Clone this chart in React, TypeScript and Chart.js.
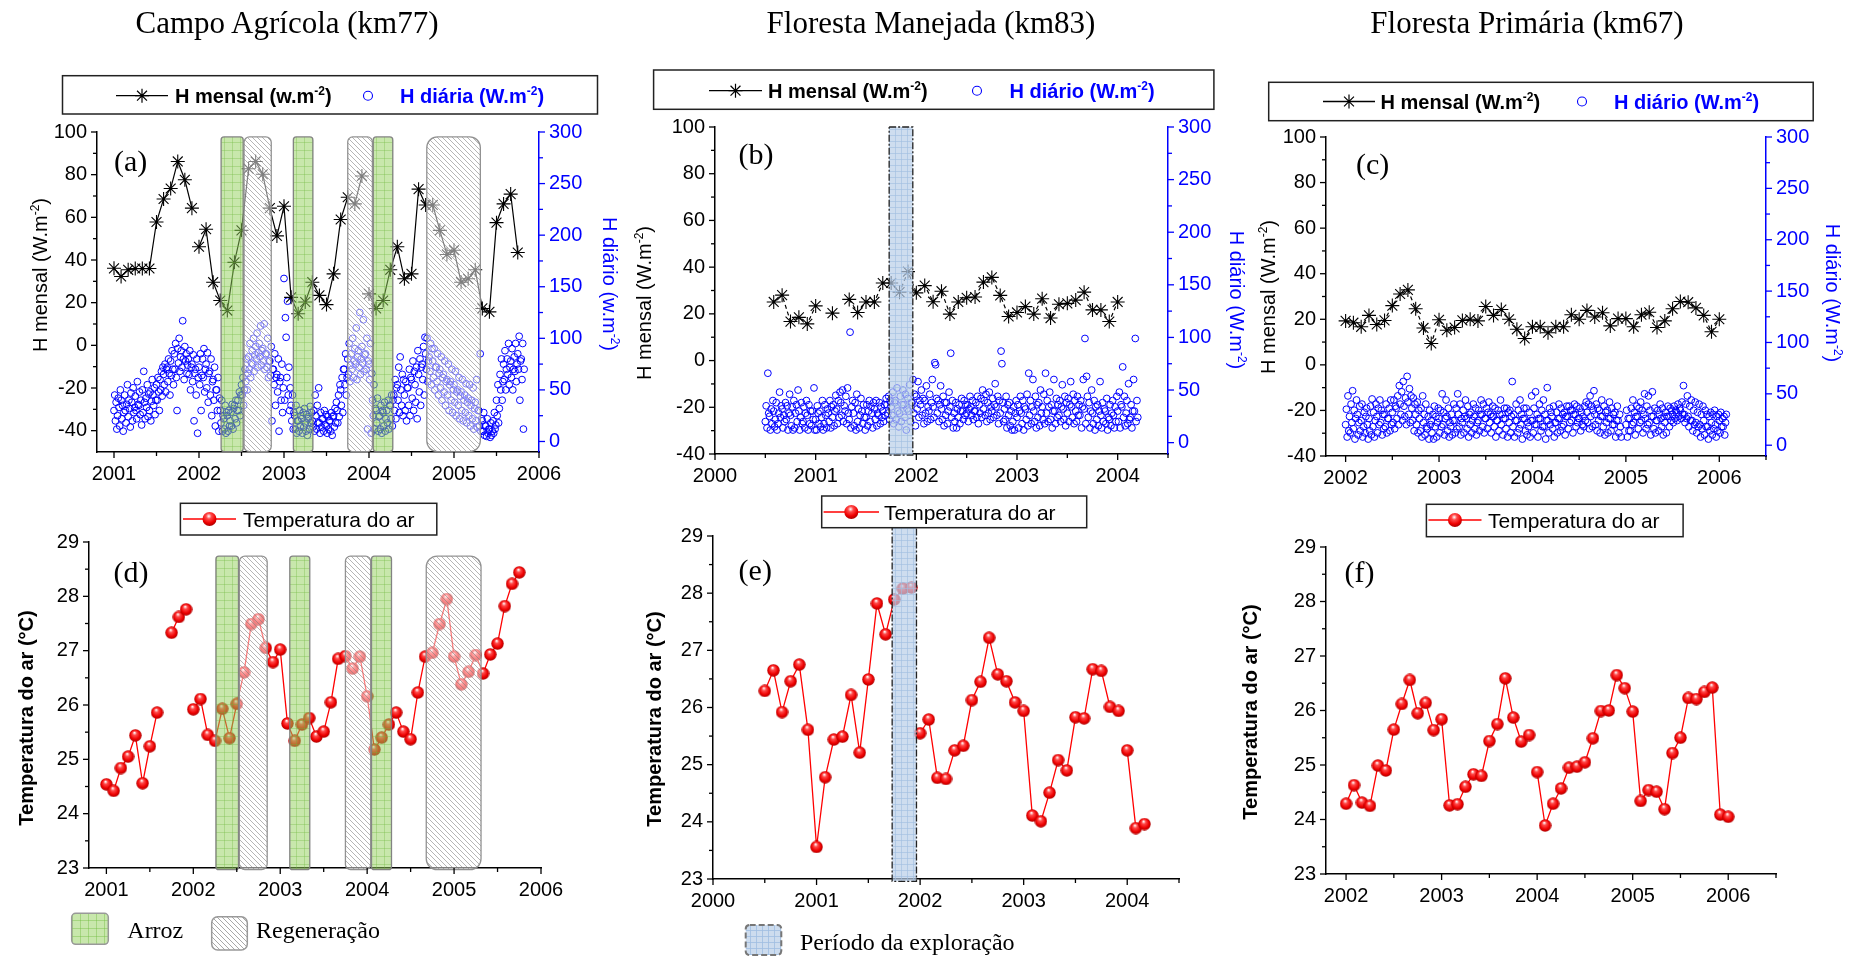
import React, { useEffect, useRef } from 'react';
import { Chart, registerables } from 'chart.js';

Chart.register(...registerables);

/* ======================= DATA ======================= */
// (a) Campo Agrícola (km77) – monthly H (W.m-2), Jan 2001 .. Oct 2005
const hMensalA0 = 2001;
const hMensalA = [36.1, 32.3, 35.4, 36, 36, 36, 57.8, 68.6, 73.5, 86.2, 77.6, 64.3, 46.2, 54.4, 29.6, 21, 16.3, 38.9, 53.9, 82.8, 86.2, 80.2, 64.3, 51.3, 65.2, 22.5, 14.8, 20.3, 29.6, 23.4, 19.1, 33.5, 59, 69.4, 66.3, 79.4, 24.1, 17.3, 21, 35.4, 46.2, 31.2, 33.5, 73.2, 65.8, 65.8, 53.9, 42.6, 44.6, 29.6, 31.2, 35.4, 17.3, 15.7, 57.5, 66.3, 70.9, 43.5];
const hMensalABreaks = [11, 35];
// daily H (W.m-2), one inner list per half month
const hDiariaA0 = 2001;
const hDiariaA = [
  [30,45,20,38,12],[25,42,33,15,50],[40,22,35,10,28],[45,30,18,36,55],[24,40,32,14,47],[38,20,52,28,33],
  [44,30,22,58,36],[35,48,26,40,16],[50,28,68,38,22],[42,33,55,24,46],[30,48,20,39,60],[45,35,52,26,40],
  [55,40,62,48,30],[60,50,68,44,72],[65,55,75,48,70],[72,58,80,66,45],[78,64,88,70,55],[85,70,95,62,30],
  [90,76,100,68,82],[88,72,117,80,60],[92,78,85,66,74],[80,65,88,50,72],[75,58,84,20,66],[70,45,80,8,62],
  [72,55,85,30,64],[80,62,90,48,70],[75,52,86,38,66],[68,45,80,25,58],[60,40,72,15,50],[50,30,62,10,42],
  [30,18,40,10,25],[22,12,35,8,28],[25,10,30,15,20],[28,15,36,12,32],[35,22,40,18,30],[40,30,48,25,45],
  [55,45,62,35,50],[70,58,80,50,66],[82,70,95,62,76],[88,75,100,68,84],[92,80,105,72,86],[95,82,112,74,88],
  [90,78,114,70,85],[85,72,100,62,78],[78,64,92,20,70],[70,55,85,35,62],[65,48,80,10,58],[62,40,75,28,52],
  [158,40,120,101,62],[136,45,72,30,52],[35,20,45,12,28],[25,12,35,8,20],[20,10,30,15,25],[22,8,28,14,32],
  [18,10,26,6,22],[24,12,34,18,28],[20,14,30,10,45],[25,12,35,18,52],[18,8,28,14,22],[22,10,30,16,26],
  [15,8,24,12,20],[20,10,28,6,24],[25,14,32,18,38],[30,18,45,24,55],[50,35,62,28,70],[70,55,85,45,62],
  [80,65,95,58,74],[85,70,100,62,78],[90,75,110,60,82],[88,72,125,65,80],[92,76,118,68,84],[85,70,100,12,78],
  [75,60,95,8,66],[40,25,55,12,32],[30,18,42,10,24],[25,12,35,8,30],[28,15,38,10,22],[30,18,40,12,35],
  [35,22,45,15,40],[45,30,60,22,52],[55,40,72,28,82],[50,35,65,25,60],[45,30,58,20,52],[52,35,70,25,62],
  [60,42,78,30,68],[55,38,72,22,88],[65,48,80,35,72],[75,60,92,45,101],[85,70,100,58,78],[82,68,95,55,90],
  [78,62,90,50,72],[72,58,85,45,66],[70,52,82,40,62],[65,48,78,35,58],[60,45,75,30,55],[58,40,70,28,50],
  [55,38,68,25,48],[50,35,62,22,44],[48,30,60,20,40],[45,28,56,18,38],[42,25,55,15,35],[40,22,52,12,32],
  [38,20,60,14,30],[30,15,85,10,22],[20,10,28,6,15],[15,5,22,8,12],[12,4,18,6,10],[20,8,28,12,16],
  [40,25,55,18,32],[65,50,80,40,58],[75,60,88,50,70],[80,65,95,55,72],[78,62,90,50,70],[82,68,95,58,75],
  [85,70,102,40,78],[80,60,95,12,70],
];

// (b) Floresta Manejada (km83) – monthly H from Aug 2000
const hMensalB0 = 2000 + 7 / 12;
const hMensalB = [25.1, 28.0, 16.7, 18.5, 15.7, 23.4, null, 20.3, null, 26.2, 20.6, 25.1, 25.1, 33.2, 33.2, 29.3, 38.1, 29.0, 32.1, 25.2, 29.7, 19.9, 25.1, 26.9, 27.2, 33.6, 35.6, 27.9, 18.9, 20.6, 23.1, 19.9, 26.5, 18.2, 24.1, 24.5, 25.9, 29.3, 21.7, 21.7, 16.7, 25.1];
const hMensalBBreaks: number[] = [];
const hDiarioB0 = 2000.5;
const hDiarioB = [
  [20,35,14,66,28],[25,12,32,18,40],[30,15,22,38,12],[18,28,48,24,35],[32,14,26,20,38],[22,35,12,28,46],
  [26,16,34,12,40],[14,28,36,20,50],[30,12,24,38,18],[20,34,14,28,40],[26,12,36,18,30],[16,30,22,52,12],
  [22,12,35,28,18],[30,15,24,40,12],[18,36,26,14,32],[28,20,40,14,34],[24,36,16,30,45],[32,18,40,24,48],
  [38,26,50,20,35],[30,44,18,52,28],[22,105,14,34,40],[28,16,38,12,46],[20,32,14,26,42],[30,18,36,24,12],
  [24,36,16,30,40],[20,34,28,14,38],[32,22,40,16,28],[26,38,18,34,24],[30,20,36,26,42],[36,28,44,22,40],
  [34,26,48,18,38],[40,22,52,30,15],[28,44,20,36,50],[36,24,46,12,32],[42,30,55,20,38],[38,60,28,46,16],
  [44,32,58,24,40],[36,50,26,42,18],[40,28,54,20,34],[30,46,22,38,60],[34,24,76,74,42],[28,40,20,36,54],
  [32,22,44,16,38],[26,38,18,30,48],[34,85,24,40,14],[28,20,38,14,32],[24,36,18,30,42],[30,22,40,26,36],
  [28,36,20,32,44],[34,26,40,22,30],[30,38,24,44,18],[36,28,42,24,50],[32,40,26,46,20],[38,28,48,22,34],
  [30,42,24,36,56],[34,26,44,18,40],[28,87,75,38,20],[32,22,44,14,36],[26,38,16,30,12],[20,34,12,28,40],
  [24,36,14,30,44],[28,18,40,12,34],[32,22,46,16,66],[26,40,18,34,60],[30,20,44,14,36],[24,38,16,50,28],
  [34,22,46,18,66],[28,40,20,34,48],[22,36,14,30,60],[30,18,42,24,36],[26,40,20,34,55],[32,22,44,16,38],
  [28,42,20,36,58],[34,24,46,18,40],[30,20,44,26,36],[26,40,14,34,60],[32,99,18,63,44],[24,38,14,30,50],
  [28,18,40,12,34],[22,36,16,30,58],[26,14,38,20,32],[30,18,42,12,24],[22,36,16,28,40],[26,14,34,20,44],
  [30,20,48,14,36],[34,72,24,44,16],[28,40,18,56,22],[24,36,14,30,60],[30,99,20,40,24],
];

// (c) Floresta Primária (km67) – monthly H from Jan 2002
const hMensalC0 = 2002;
const hMensalC = [19.3, 18.5, 16.7, 21.7, 17.7, 19.5, 26.0, 31.1, 32.9, 24.6, 16.2, 9.4, 19.8, 15.2, 16.4, 19.5, 20.0, 19.3, 25.6, 21.7, 24.3, 20.0, 15.6, 11.6, 16.7, 16.7, 14.1, 16.7, 16.7, 22.0, 20.0, 23.9, 21.0, 22.9, 17.1, 20.3, 20.3, 16.7, 22.0, 23.1, 16.4, 19.3, 24.6, 27.8, 27.5, 25.0, 21.7, 14.5, 20.0];
const hMensalCBreaks: number[] = [];
const hDiarioC0 = 2002;
const hDiarioC = [
  [20,35,8,48,14],[28,12,40,22,53],[16,34,6,26,44],[30,10,22,38,14],[24,40,8,18,32],[12,28,36,20,6],
  [26,14,38,10,45],[18,32,8,24,40],[28,12,36,20,44],[22,34,10,30,16],[30,18,40,12,26],[26,36,14,44,20],
  [32,22,44,16,38],[36,26,48,20,58],[40,30,52,24,62],[38,28,46,20,67],[42,30,55,22,48],[36,24,46,14,40],
  [30,20,42,12,34],[26,14,36,8,48],[22,30,10,40,18],[16,28,6,34,20],[24,12,30,6,38],[18,28,8,22,36],
  [26,12,34,18,50],[20,32,10,26,44],[28,14,36,8,22],[18,30,10,24,40],[24,12,36,16,50],[30,18,40,10,26],
  [22,34,12,28,44],[26,16,38,8,30],[20,32,12,24,40],[28,16,36,10,22],[24,34,14,30,44],[30,18,40,12,26],
  [26,36,16,32,42],[22,30,12,28,38],[28,18,36,8,24],[24,34,14,30,44],[20,30,10,26,36],[26,16,36,8,32],
  [22,34,12,28,62],[18,30,8,24,40],[24,12,34,16,44],[20,30,6,26,36],[26,14,36,10,22],[18,32,8,24,48],
  [24,12,36,20,52],[20,30,8,26,40],[26,14,34,18,44],[18,30,6,24,56],[24,12,36,20,32],[28,16,38,8,22],
  [22,32,12,26,40],[26,14,36,18,30],[20,32,10,28,38],[28,16,38,22,34],[24,34,12,30,40],[30,18,38,22,26],
  [26,36,14,32,20],[28,18,38,24,42],[32,22,40,16,48],[28,38,18,34,53],[30,20,40,14,36],[24,34,12,28,44],
  [28,18,38,10,32],[22,34,12,26,42],[26,14,36,20,30],[20,32,8,24,38],[24,12,30,18,8],[],
  [20,34,8,26,14],[26,14,36,20,44],[22,32,10,28,38],[28,16,36,22,42],[24,34,12,30,50],[26,16,38,20,48],
  [22,34,10,28,52],[28,16,36,12,24],[24,34,14,30,40],[26,18,36,10,28],[22,32,12,28,38],[28,18,36,24,34],
  [30,22,38,26,34],[32,24,40,28,36],[34,26,42,30,58],[30,22,40,26,48],[28,18,38,24,44],[24,14,34,20,42],
  [22,12,32,18,40],[20,8,30,16,38],[24,10,34,18,30],[18,6,28,14,32],[22,10,30,16,34],[20,8,28,14,30],
  [24,12,32,18,26],[18,28,10,22,30],
];

// (d)(e)(f) monthly air temperature (°C)
const tempD0 = 2001;
const tempD = [24.54, 24.42, 24.84, 25.05, 25.44, 24.56, 25.24, 25.86, null, 27.33, 27.62, 27.76, 25.92, 26.11, 25.45, 25.34, 25.93, 25.39, 26.02, 26.6, 27.49, 27.58, 27.05, 26.79, 27.02, 25.66, 25.34, 25.64, 25.76, 25.42, 25.51, 26.05, 26.85, 26.9, 26.67, 26.89, 26.16, 25.18, 25.4, 25.64, 25.86, 25.51, 25.37, 26.23, 26.89, 26.96, 27.49, 27.95, 26.89, 26.38, 26.61, 26.92, 26.58, 26.93, 27.13, 27.82, 28.23, 28.44];
const tempDBreaks = [11];
const tempE0 = 2000.5;
const tempE = [26.29, 26.65, 25.92, 26.46, 26.75, 25.61, 23.56, 24.78, 25.44, 25.49, 26.22, 25.21, 26.49, 27.82, 27.28, 27.89, 28.08, 28.1, 25.55, 25.79, 24.77, 24.75, 25.25, 25.33, 26.13, 26.45, 27.22, 26.58, 26.46, 26.09, 25.94, 24.11, 24.01, 24.51, 25.08, 24.9, 25.83, 25.81, 26.67, 26.64, 26.01, 25.94, 25.25, 23.89, 23.96];
const tempEBreaks = [17, 41];
const tempF0 = 2002;
const tempF = [24.29, 24.63, 24.31, 24.25, 24.99, 24.9, 25.65, 26.12, 26.56, 25.95, 26.14, 25.64, 25.84, 24.26, 24.28, 24.6, 24.83, 24.8, 25.44, 25.75, 26.59, 25.87, 25.43, 25.55, 24.87, 23.89, 24.29, 24.57, 24.95, 24.97, 25.05, 25.49, 25.99, 26.0, 26.65, 26.41, 25.98, 24.34, 24.54, 24.51, 24.19, 25.22, 25.5, 26.23, 26.21, 26.34, 26.42, 24.09, 24.05];
const tempFBreaks = [23];

// land-use periods (decimal years)
const arrozPeriods = [[2002.26, 2002.52], [2003.11, 2003.34], [2004.05, 2004.28]];
const regenPeriods = [[2002.53, 2002.85], [2003.75, 2004.04], [2004.68, 2005.31]];
const exploracaoPeriods = [[2001.73, 2001.965]];

// ticks
const yearsA = [2001, 2002, 2003, 2004, 2005, 2006];
const yearsMinorA = [2001.5, 2002.5, 2003.5, 2004.5, 2005.5];
const yearsB = [2000, 2001, 2002, 2003, 2004];
const yearsMinorB = [2000.5, 2001.5, 2002.5, 2003.5, 2004.5];
const yearsC = [2002, 2003, 2004, 2005, 2006];
const yearsMinorC = [2002.5, 2003.5, 2004.5, 2005.5, 2006.5];
const hTicks = [-40, -20, 0, 20, 40, 60, 80, 100];
const hMinor = [-30, -10, 10, 30, 50, 70, 90];
const dTicks = [0, 50, 100, 150, 200, 250, 300];
const dMinor = [25, 75, 125, 175, 225, 275];
const tTicks = [23, 24, 25, 26, 27, 28, 29];
const tMinor = [23.5, 24.5, 25.5, 26.5, 27.5, 28.5];

/* ======================= LAYOUT ======================= */
const PANEL_A = { box: { left: 0, top: 110, width: 600, height: 380 }, area: { left: 97, right: 539, top: 129, bottom: 452 } };
const PANEL_B = { box: { left: 625, top: 105, width: 600, height: 385 }, area: { left: 715, right: 1168, top: 121, bottom: 454 } };
const PANEL_C = { box: { left: 1270, top: 115, width: 560, height: 380 }, area: { left: 1326, right: 1766, top: 132, bottom: 456 } };
const PANEL_D = { box: { left: 0, top: 520, width: 575, height: 385 }, area: { left: 89, right: 541, top: 537, bottom: 868 } };
const PANEL_E = { box: { left: 625, top: 510, width: 590, height: 400 }, area: { left: 713, right: 1179, top: 536, bottom: 879 } };
const PANEL_F = { box: { left: 1270, top: 525, width: 540, height: 385 }, area: { left: 1326, right: 1776, top: 543, bottom: 874 } };

const FONT = '"Liberation Sans", Arial, Helvetica, sans-serif';
const SERIF = '"Liberation Serif", "Times New Roman", Times, serif';
const BLUE = '#0000ff';
const RED = '#ff0000';

/* ======================= HELPERS ======================= */
const monthly = (start: number, vals: (number | null)[]) => vals.map((v, i) => ({ x: start + i / 12, y: v }));
const daily = (start: number, groups: number[][]) =>
  groups.flatMap((g, gi) => g.map((v, j) => ({ x: start + (gi + j / g.length) / 24, y: v })));

function ticksPlugin(spec: any) {
  return {
    id: 'majorMinorTicks',
    afterDraw(chart: any) {
      const ctx = chart.ctx;
      Object.keys(spec).forEach((id) => {
        const s = chart.scales[id];
        if (!s) return;
        const { major, minor, color } = spec[id];
        ctx.save();
        ctx.strokeStyle = color;
        ctx.lineWidth = 1.3;
        const mark = (v: number, len: number) => {
          const p = s.getPixelForValue(v);
          ctx.beginPath();
          if (s.isHorizontal()) { ctx.moveTo(p, s.top); ctx.lineTo(p, s.top + len); }
          else if (s.position === 'left') { ctx.moveTo(s.right, p); ctx.lineTo(s.right - len, p); }
          else { ctx.moveTo(s.left, p); ctx.lineTo(s.left + len, p); }
          ctx.stroke();
        };
        major.forEach((v: number) => mark(v, 6));
        minor.forEach((v: number) => mark(v, 4));
        ctx.restore();
      });
    },
  };
}

function gridPattern(ctx: CanvasRenderingContext2D, bg: string, line: string, step: number) {
  const c = document.createElement('canvas');
  c.width = step; c.height = step;
  const g = c.getContext('2d')!;
  g.fillStyle = bg; g.fillRect(0, 0, step, step);
  g.strokeStyle = line; g.lineWidth = 1;
  g.beginPath(); g.moveTo(0.5, 0); g.lineTo(0.5, step); g.moveTo(0, 0.5); g.lineTo(step, 0.5); g.stroke();
  return ctx.createPattern(c, 'repeat')!;
}
function hatchPattern(ctx: CanvasRenderingContext2D) {
  const s = 5;
  const c = document.createElement('canvas');
  c.width = s; c.height = s;
  const g = c.getContext('2d')!;
  g.strokeStyle = 'rgba(120,120,120,0.55)'; g.lineWidth = 1;
  g.beginPath();
  g.moveTo(-1, -1); g.lineTo(s + 1, s + 1);
  g.moveTo(-1, s - 1); g.lineTo(1, s + 1);
  g.moveTo(s - 1, -1); g.lineTo(s + 1, 1);
  g.stroke();
  return ctx.createPattern(c, 'repeat')!;
}

function drawPeriod(ctx: CanvasRenderingContext2D, kind: string, x: number, y: number, w: number, h: number) {
  ctx.save();
  const r = kind === 'expl' ? 0 : kind === 'arroz' ? 3 : Math.min(12, w * 0.2);
  ctx.beginPath();
  (ctx as any).roundRect(x, y, w, h, r);
  if (kind === 'arroz') {
    ctx.fillStyle = gridPattern(ctx, 'rgba(145,208,90,0.5)', 'rgba(110,185,60,0.32)', 8);
    ctx.fill();
    ctx.strokeStyle = 'rgba(125,125,125,0.95)'; ctx.lineWidth = 1.3; ctx.stroke();
  } else if (kind === 'regen') {
    ctx.fillStyle = 'rgba(255,255,255,0.5)'; ctx.fill();
    ctx.fillStyle = hatchPattern(ctx); ctx.fill();
    ctx.strokeStyle = 'rgba(140,140,140,0.95)'; ctx.lineWidth = 1.3; ctx.stroke();
  } else {
    ctx.fillStyle = gridPattern(ctx, 'rgba(185,207,232,0.7)', 'rgba(160,190,225,0.6)', 6);
    ctx.fill();
    ctx.setLineDash([7, 2, 2, 2]); ctx.strokeStyle = '#222'; ctx.lineWidth = 1.3; ctx.stroke();
  }
  ctx.restore();
}

function periodsPlugin(yId: string, yLow: number, yHigh: number, sets: { kind: string; periods: number[][] }[]) {
  return {
    id: 'periods',
    afterDatasetsDraw(chart: any) {
      const ctx = chart.ctx, xs = chart.scales.x, ys = chart.scales[yId];
      const top = ys.getPixelForValue(yHigh), bottom = ys.getPixelForValue(yLow);
      sets.forEach(({ kind, periods }) => periods.forEach(([a, b]) => {
        const x0 = xs.getPixelForValue(a), x1 = xs.getPixelForValue(b);
        drawPeriod(ctx, kind, x0, top, x1 - x0, bottom - top);
      }));
    },
  };
}

function makeBall(d: number) {
  const c = document.createElement('canvas');
  c.width = d; c.height = d;
  const g = c.getContext('2d')!;
  const r = d / 2;
  const grad = g.createRadialGradient(r * 0.85, r * 0.55, r * 0.05, r, r, r);
  grad.addColorStop(0, '#ffffff');
  grad.addColorStop(0.28, '#ff4a4a');
  grad.addColorStop(0.7, '#ee0000');
  grad.addColorStop(1, '#a80000');
  g.fillStyle = grad;
  g.beginPath(); g.arc(r, r, r - 0.3, 0, Math.PI * 2); g.fill();
  return c;
}

function xScale(min: number, max: number, majors: number[], height: number) {
  return {
    type: 'linear', position: 'bottom', min, max,
    grid: { display: false, drawTicks: false },
    border: { display: true, color: '#000', width: 1.5 },
    ticks: { color: '#000', font: { family: FONT, size: 20 }, padding: 10, autoSkip: false, maxRotation: 0, minRotation: 0, callback: (v: number) => String(v) },
    afterBuildTicks: (s: any) => { s.ticks = majors.map((v) => ({ value: v })); },
    afterFit: (s: any) => { s.height = height; },
  };
}
function yScale(position: string, min: number, max: number, majors: number[], color: string, width: number) {
  return {
    type: 'linear', position, min, max,
    grid: { display: false, drawTicks: false },
    border: { display: true, color, width: 1.5 },
    ticks: { color, font: { family: FONT, size: 20 }, padding: 10, autoSkip: false, callback: (v: number) => String(v) },
    afterBuildTicks: (s: any) => { s.ticks = majors.map((v) => ({ value: v })); },
    afterFit: (s: any) => { s.width = width; },
  };
}
function baseOptions(padding: any, scales: any) {
  return {
    responsive: false, animation: false, devicePixelRatio: 1, events: [],
    layout: { padding },
    plugins: { legend: { display: false }, tooltip: { enabled: false } },
    scales,
  };
}

function hConfig(panel: any, o: any) {
  const { box, area } = panel;
  const scales = {
    x: xScale(o.xMin, o.xMax, o.xMajor, box.top + box.height - area.bottom),
    y: yScale('left', o.yMin, 100, hTicks, '#000', area.left - box.left),
    y2: yScale('right', o.y2Min, 300, dTicks, BLUE, box.left + box.width - area.right),
  };
  const plugins: any[] = [];
  if (o.overlay) plugins.push(o.overlay);
  plugins.push(ticksPlugin({
    x: { major: o.xMajor, minor: o.xMinor, color: '#000' },
    y: { major: hTicks, minor: hMinor, color: '#000' },
    y2: { major: dTicks, minor: dMinor, color: BLUE },
  }));
  return {
    type: 'scatter',
    data: {
      datasets: [
        {
          data: monthly(o.m0, o.mVals), yAxisID: 'y', showLine: true, spanGaps: false,
          borderColor: '#000', borderWidth: 1.2, borderDash: o.dash,
          pointStyle: 'star', pointRadius: 7, pointBorderColor: '#000', pointBackgroundColor: '#000', pointBorderWidth: 1.1,
          segment: { borderColor: (c: any) => (o.breaks.includes(c.p0DataIndex) ? 'rgba(0,0,0,0)' : '#000') },
        },
        {
          data: daily(o.d0, o.dVals), yAxisID: 'y2', showLine: false,
          pointStyle: 'circle', pointRadius: 3.4, pointBorderWidth: 1,
          pointBorderColor: BLUE, pointBackgroundColor: 'rgba(0,0,0,0)', borderColor: BLUE, backgroundColor: 'rgba(0,0,0,0)',
        },
      ],
    },
    options: baseOptions({ top: area.top - box.top, left: 0, right: 0, bottom: 0 }, scales),
    plugins,
  };
}

function tConfig(panel: any, o: any) {
  const { box, area } = panel;
  const scales = {
    x: xScale(o.xMin, o.xMax, o.xMajor, box.top + box.height - area.bottom),
    y: yScale('left', 23, 29, tTicks, '#000', area.left - box.left),
  };
  const plugins: any[] = [];
  if (o.overlay) plugins.push(o.overlay);
  plugins.push(ticksPlugin({
    x: { major: o.xMajor, minor: o.xMinor, color: '#000' },
    y: { major: tTicks, minor: tMinor, color: '#000' },
  }));
  const ball = makeBall(13);
  return {
    type: 'scatter',
    data: {
      datasets: [{
        data: monthly(o.t0, o.tVals), showLine: true, spanGaps: false,
        borderColor: RED, borderWidth: 1.3, pointStyle: ball, pointRadius: 6.5,
        segment: { borderColor: (c: any) => (o.breaks.includes(c.p0DataIndex) ? 'rgba(0,0,0,0)' : RED) },
      }],
    },
    options: baseOptions({ top: area.top - box.top, left: 0, right: box.left + box.width - area.right, bottom: 0 }, scales),
    plugins,
  };
}

const farmSets = [{ kind: 'arroz', periods: arrozPeriods }, { kind: 'regen', periods: regenPeriods }];
const explSets = [{ kind: 'expl', periods: exploracaoPeriods }];

const buildA = () => hConfig(PANEL_A, { xMin: 2000.8, xMax: 2006, xMajor: yearsA, xMinor: yearsMinorA, yMin: -50, y2Min: -10.2, m0: hMensalA0, mVals: hMensalA, breaks: hMensalABreaks, dash: [], d0: hDiariaA0, dVals: hDiariaA, overlay: periodsPlugin('y', -49.8, 97.7, farmSets) });
const buildB = () => hConfig(PANEL_B, { xMin: 2000, xMax: 2004.5, xMajor: yearsB, xMinor: yearsMinorB, yMin: -40, y2Min: -10.8, m0: hMensalB0, mVals: hMensalB, breaks: hMensalBBreaks, dash: [4, 3], d0: hDiarioB0, dVals: hDiarioB, overlay: periodsPlugin('y', -40.5, 100, explSets) });
const buildC = () => hConfig(PANEL_C, { xMin: 2001.79, xMax: 2006.5, xMajor: yearsC, xMinor: yearsMinorC, yMin: -40, y2Min: -10.5, m0: hMensalC0, mVals: hMensalC, breaks: hMensalCBreaks, dash: [4, 3], d0: hDiarioC0, dVals: hDiarioC, overlay: null });
const buildD = () => tConfig(PANEL_D, { xMin: 2000.8, xMax: 2006, xMajor: yearsA, xMinor: yearsMinorA, t0: tempD0, tVals: tempD, breaks: tempDBreaks, overlay: periodsPlugin('y', 22.97, 28.74, farmSets) });
const buildE = () => tConfig(PANEL_E, { xMin: 2000, xMax: 2004.5, xMajor: yearsB, xMinor: yearsMinorB, t0: tempE0, tVals: tempE, breaks: tempEBreaks, overlay: periodsPlugin('y', 22.96, 29.16, explSets) });
const buildF = () => tConfig(PANEL_F, { xMin: 2001.79, xMax: 2006.5, xMajor: yearsC, xMinor: yearsMinorC, t0: tempF0, tVals: tempF, breaks: tempFBreaks, overlay: null });

/* ======================= COMPONENTS ======================= */
function ChartCanvas({ panel, build }: { panel: any; build: () => any }) {
  const ref = useRef<HTMLCanvasElement | null>(null);
  useEffect(() => {
    if (!ref.current) return;
    const chart = new Chart(ref.current, build());
    return () => chart.destroy();
  }, []);
  const b = panel.box;
  return <canvas ref={ref} width={b.width} height={b.height} style={{ position: 'absolute', left: b.left, top: b.top, width: b.width, height: b.height }} />;
}

function T({ x, y, size = 20, bold = false, color = '#000', family = FONT, align = 'left', rot = 0, children }: any) {
  const tx = align === 'center' ? '-50%' : align === 'right' ? '-100%' : '0';
  return (
    <div style={{ position: 'absolute', left: x, top: y, transform: `translate(${tx}, -50%) rotate(${rot}deg)`, fontFamily: family, fontSize: size, fontWeight: bold ? 700 : 400, color, lineHeight: 1, whiteSpace: 'nowrap' }}>
      {children}
    </div>
  );
}
const Sup = ({ children }: any) => <sup style={{ fontSize: '0.6em', verticalAlign: 'baseline', position: 'relative', top: '-0.65em' }}>{children}</sup>;

function starPath(cx: number, cy: number, r: number) {
  const d = r * Math.SQRT1_2;
  return `M${cx - r} ${cy}H${cx + r}M${cx} ${cy - r}V${cy + r}M${cx - d} ${cy - d}L${cx + d} ${cy + d}M${cx - d} ${cy + d}L${cx + d} ${cy - d}`;
}

const hLegends = [
  { box: [62.5, 75.7, 535, 38.3], cy: 95.7, line: [116, 168], t1: 175, circ: 368, t2: 400, l1: 'w', l2: 'H diária' },
  { box: [653.6, 70, 560.3, 39.3], cy: 90.7, line: [709, 762], t1: 768, circ: 977, t2: 1009.5, l1: 'W', l2: 'H diário' },
  { box: [1268.7, 82.3, 544.5, 38.4], cy: 101.5, line: [1323, 1375], t1: 1380.5, circ: 1582, t2: 1614, l1: 'W', l2: 'H diário' },
];
const tLegends = [
  { box: [180.4, 503.3, 256.4, 31.7], cy: 519, line: [183, 236], t: 243 },
  { box: [821.7, 496, 265, 31.7], cy: 512, line: [823.6, 879], t: 884 },
  { box: [1426.4, 504.3, 256.7, 32.4], cy: 520, line: [1428.4, 1481.5], t: 1488 },
];

export default function App() {
  return (
    <div style={{ position: 'absolute', left: 0, top: 0, width: 1866, height: 957, background: '#fff', overflow: 'hidden', fontFamily: FONT }}>
      <ChartCanvas panel={PANEL_A} build={buildA} />
      <ChartCanvas panel={PANEL_B} build={buildB} />
      <ChartCanvas panel={PANEL_C} build={buildC} />
      <ChartCanvas panel={PANEL_D} build={buildD} />
      <ChartCanvas panel={PANEL_E} build={buildE} />
      <ChartCanvas panel={PANEL_F} build={buildF} />

      <svg width={1866} height={957} style={{ position: 'absolute', left: 0, top: 0, pointerEvents: 'none' }}>
        <defs>
          <pattern id="gridG" width="8" height="8" patternUnits="userSpaceOnUse">
            <rect width="8" height="8" fill="rgb(200,231,172)" />
            <path d="M0 0.5H8M0.5 0V8" stroke="rgba(110,185,60,0.4)" strokeWidth="1" />
          </pattern>
          <pattern id="hatch" width="5" height="5" patternUnits="userSpaceOnUse">
            <rect width="5" height="5" fill="#fff" />
            <path d="M-1 -1L6 6M-1 4L1 6M4 -1L6 1" stroke="#a8a8a8" strokeWidth="1" />
          </pattern>
          <pattern id="gridB" width="6" height="6" patternUnits="userSpaceOnUse">
            <rect width="6" height="6" fill="rgb(205,220,238)" />
            <path d="M0 0.5H6M0.5 0V6" stroke="rgba(160,190,225,0.8)" strokeWidth="1" />
          </pattern>
          <radialGradient id="ballG" cx="0.45" cy="0.3" r="0.7">
            <stop offset="0" stopColor="#ffffff" />
            <stop offset="0.28" stopColor="#ff4a4a" />
            <stop offset="0.7" stopColor="#ee0000" />
            <stop offset="1" stopColor="#a80000" />
          </radialGradient>
        </defs>
        {hLegends.map((l, i) => (
          <g key={'h' + i}>
            <rect x={l.box[0]} y={l.box[1]} width={l.box[2]} height={l.box[3]} fill="#fff" stroke="#222" strokeWidth={1.5} />
            <line x1={l.line[0]} y1={l.cy} x2={l.line[1]} y2={l.cy} stroke="#000" strokeWidth={1.3} />
            <path d={starPath((l.line[0] + l.line[1]) / 2, l.cy, 7)} stroke="#000" strokeWidth={1.2} />
            <circle cx={l.circ} cy={l.cy} r={4.5} fill="none" stroke={BLUE} strokeWidth={1.1} />
          </g>
        ))}
        {tLegends.map((l, i) => (
          <g key={'t' + i}>
            <rect x={l.box[0]} y={l.box[1]} width={l.box[2]} height={l.box[3]} fill="#fff" stroke="#222" strokeWidth={1.5} />
            <line x1={l.line[0]} y1={l.cy} x2={l.line[1]} y2={l.cy} stroke={RED} strokeWidth={1.3} />
            <circle cx={(l.line[0] + l.line[1]) / 2} cy={l.cy} r={7} fill="url(#ballG)" />
          </g>
        ))}
        <rect x={71.7} y={913.3} width={36.6} height={31} rx={4} fill="url(#gridG)" stroke="#999" strokeWidth={1.5} />
        <rect x={211.7} y={916.7} width={35.6} height={33.3} rx={6} fill="url(#hatch)" stroke="#999" strokeWidth={1.5} />
        <rect x={745.7} y={925} width={35.6} height={30} rx={4} fill="url(#gridB)" stroke="#777" strokeWidth={2} strokeDasharray="6 3" />
      </svg>

      {/* titles */}
      <T x={287} y={22} size={31} family={SERIF} align="center">Campo Agrícola (km77)</T>
      <T x={931} y={22} size={31} family={SERIF} align="center">Floresta Manejada (km83)</T>
      <T x={1527} y={22} size={31} family={SERIF} align="center">Floresta Primária (km67)</T>

      {/* H legends text */}
      {hLegends.map((l, i) => (
        <React.Fragment key={'ht' + i}>
          <T x={l.t1} y={l.cy} bold>H mensal ({l.l1}.m<Sup>-2</Sup>)</T>
          <T x={l.t2} y={l.cy} bold color={BLUE}>{l.l2} (W.m<Sup>-2</Sup>)</T>
        </React.Fragment>
      ))}
      {tLegends.map((l, i) => (
        <T key={'tt' + i} x={l.t} y={l.cy} size={21}>Temperatura do ar</T>
      ))}

      {/* panel letters */}
      <T x={114} y={161} size={30} family={SERIF}>(a)</T>
      <T x={738.6} y={154} size={30} family={SERIF}>(b)</T>
      <T x={1356} y={164} size={30} family={SERIF}>(c)</T>
      <T x={113.6} y={572} size={30} family={SERIF}>(d)</T>
      <T x={738.6} y={570} size={30} family={SERIF}>(e)</T>
      <T x={1344.6} y={572} size={30} family={SERIF}>(f)</T>

      {/* axis titles */}
      <T x={40} y={275} align="center" rot={-90}>H mensal (W.m<Sup>-2</Sup>)</T>
      <T x={610} y={284} align="center" rot={90} color={BLUE}>H diário (w.m<Sup>-2</Sup>)</T>
      <T x={643.7} y={303} align="center" rot={-90}>H mensal (W.m<Sup>-2</Sup>)</T>
      <T x={1237} y={300} align="center" rot={90} color={BLUE}>H diário (W.m<Sup>-2</Sup>)</T>
      <T x={1268} y={296.5} align="center" rot={-90}>H mensal (W.m<Sup>-2</Sup>)</T>
      <T x={1833} y={292.5} align="center" rot={90} color={BLUE}>H diário (W.m<Sup>-2</Sup>)</T>
      <T x={25.7} y={718} align="center" rot={-90} bold>Temperatura do ar (°C)</T>
      <T x={653.6} y={719} align="center" rot={-90} bold>Temperatura do ar (°C)</T>
      <T x={1250} y={712} align="center" rot={-90} bold>Temperatura do ar (°C)</T>

      {/* bottom legends */}
      <T x={127.3} y={930} size={24} family={SERIF}>Arroz</T>
      <T x={256} y={930} size={24} family={SERIF}>Regeneração</T>
      <T x={800} y={941.7} size={24} family={SERIF}>Período da exploração</T>
    </div>
  );
}
